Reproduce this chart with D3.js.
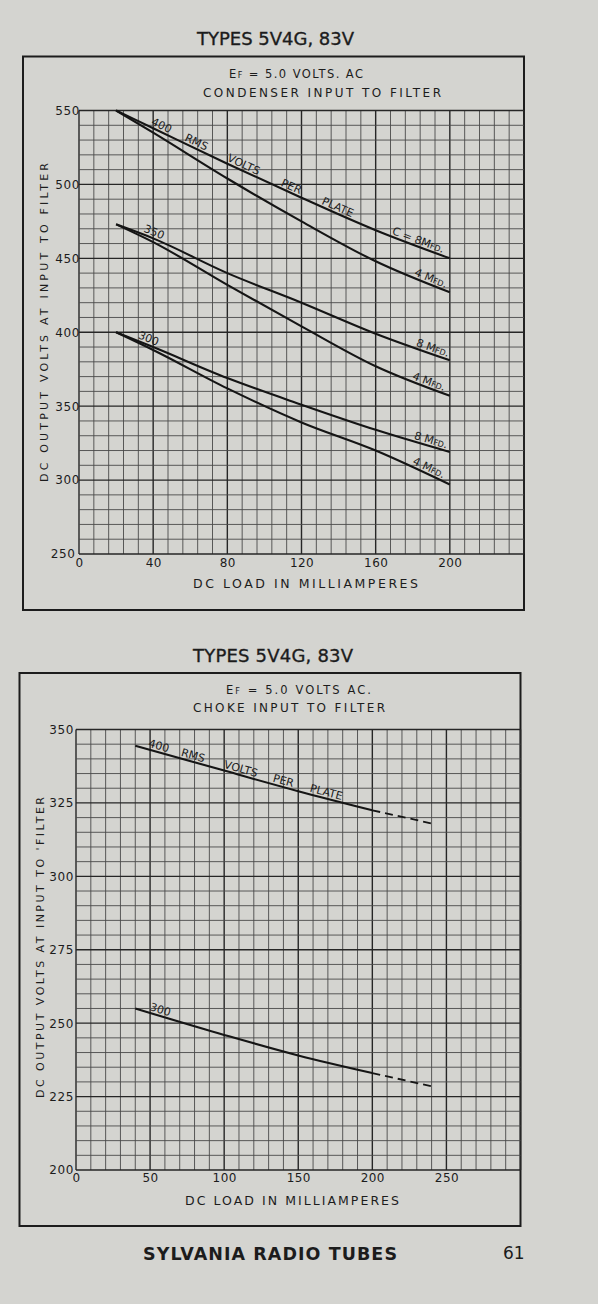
<!DOCTYPE html>
<html>
<head>
<meta charset="utf-8">
<script src="https://cdn.jsdelivr.net/npm/d3@7"></script>
<style>
    html, body { margin: 0; padding: 0; background: #d4d4d0; }
    svg { display: block; }
    text { font-family: "DejaVu Sans", sans-serif; fill: #1c1c1c; }
</style>
</head>
<body>
<svg id="page" width="598" height="1304"></svg>
<script>
// ---- condenser input to filter (top chart) ----
const capLoad = [20, 40, 80, 120, 160, 200]
const cap400c8 = [550, 538, 514, 491, 469, 450]
const cap400c4 = [550, 535, 504, 475, 448, 427]
const cap350c8 = [473, 463.5, 440, 420, 399, 381]
const cap350c4 = [473, 461, 432, 404, 377, 357]
const cap300c8 = [400, 390, 369, 351, 334, 319]
const cap300c4 = [400, 388, 362, 339, 320, 297]
const capXTicks = [0, 40, 80, 120, 160, 200]
const capYTicks = [250, 300, 350, 400, 450, 500, 550]

// ---- choke input to filter (bottom chart) ----
const chokeLoad = [40, 100, 150, 200]
const choke400 = [344.5, 336, 329, 322.5]
const choke300 = [255, 246, 239, 233]
const chokeLoadExt = [200, 240]
const choke400Ext = [322.5, 318]
const choke300Ext = [233, 228.5]
const chokeXTicks = [0, 50, 100, 150, 200, 250]
const chokeYTicks = [200, 225, 250, 275, 300, 325, 350]

// curve labels: [series id, words, load (mA) where the word starts]
// lower-case letters come out as small capitals
const capLabels = [
    ["c400c8", "400", 38], ["c400c8", "RMS", 56], ["c400c8", "VOLTS", 79],
    ["c400c8", "PER", 108], ["c400c8", "PLATE", 130], ["c400c8", "C = 8Mfd.", 168],
    ["c400c4", "4 Mfd.", 180],
    ["c350c8", "350", 34], ["c350c8", "8 Mfd.", 181], ["c350c4", "4 Mfd.", 179],
    ["c300c8", "300", 31], ["c300c8", "8 Mfd.", 180], ["c300c4", "4 Mfd.", 179]
]
const chokeLabels = [
    ["k400", "400", 48], ["k400", "RMS", 70], ["k400", "VOLTS", 99],
    ["k400", "PER", 132], ["k400", "PLATE", 157],
    ["k300", "300", 49]
]

const svg = d3.select("#page")
const ink = "#1c1c1c"

function lengthAtX(node, px) {
    let lo = 0, hi = node.getTotalLength()
    for (let i = 0; i < 30; i++) {
        const mid = (lo + hi) / 2
        if (node.getPointAtLength(mid).x < px) lo = mid; else hi = mid
    }
    return lo
}

function drawChart(opt) {
    const g = svg.append("g")
    const x = d3.scaleLinear().domain(opt.xDomain).range([opt.plot.left, opt.plot.right])
    const y = d3.scaleLinear().domain(opt.yDomain).range([opt.plot.bottom, opt.plot.top])

    // titles
    g.append("text")
        .attr("x", opt.title.x).attr("y", opt.title.y)
        .attr("text-anchor", "middle")
        .attr("font-size", 18)
        .attr("stroke", ink).attr("stroke-width", 0.35)
        .attr("textLength", opt.title.len).attr("lengthAdjust", "spacing")
        .text("TYPES 5V4G, 83V")

    g.append("rect")
        .attr("x", opt.box.x).attr("y", opt.box.y)
        .attr("width", opt.box.w).attr("height", opt.box.h)
        .attr("fill", "none").attr("stroke", ink).attr("stroke-width", 2)

    g.append("text")
        .attr("x", opt.sub1.x).attr("y", opt.sub1.y)
        .attr("font-size", 11.5)
        .attr("font-variant", "small-caps")
        .attr("textLength", opt.sub1.len).attr("lengthAdjust", "spacing")
        .text(opt.sub1.text)

    g.append("text")
        .attr("x", opt.sub2.x).attr("y", opt.sub2.y)
        .attr("font-size", 12)
        .attr("textLength", opt.sub2.len).attr("lengthAdjust", "spacing")
        .text(opt.sub2.text)

    // grid
    const grid = g.append("g")
    const xs = d3.range(opt.xDomain[0], opt.xDomain[1] + 0.001, opt.xMinor)
    const ys = d3.range(opt.yDomain[0], opt.yDomain[1] + 0.001, opt.yMinor)
    grid.selectAll(".vx").data(xs).enter().append("line")
        .attr("x1", d => x(d)).attr("x2", d => x(d))
        .attr("y1", opt.plot.top).attr("y2", opt.plot.bottom)
        .attr("stroke", d => d % opt.xMajor === 0 ? "#262626" : "#4a4a4a")
        .attr("stroke-width", d => d % opt.xMajor === 0 ? 1.4 : 0.9)
    grid.selectAll(".hy").data(ys).enter().append("line")
        .attr("y1", d => y(d)).attr("y2", d => y(d))
        .attr("x1", opt.plot.left).attr("x2", opt.plot.right)
        .attr("stroke", d => d % opt.yMajor === 0 ? "#262626" : "#4a4a4a")
        .attr("stroke-width", d => d % opt.yMajor === 0 ? 1.4 : 0.9)

    // axes labels
    const yAxis = g.append("g")
        .attr("transform", `translate(${opt.plot.left + opt.yGap},0)`)
        .call(d3.axisLeft(y).tickValues(opt.yTicks).tickSize(0).tickPadding(0))
    yAxis.select(".domain").remove()
    yAxis.selectAll("text")
        .attr("font-size", 12).attr("letter-spacing", 0.6)
        .attr("font-family", "DejaVu Sans").attr("fill", ink)
        .attr("dx", d => d === opt.yDomain[0] ? opt.lowGap : 0)

    const xAxis = g.append("g")
        .attr("transform", `translate(0,${opt.plot.bottom})`)
        .call(d3.axisBottom(x).tickValues(opt.xTicks).tickSize(0).tickPadding(0))
    xAxis.select(".domain").remove()
    xAxis.selectAll("text")
        .attr("font-size", 12).attr("letter-spacing", 0.4)
        .attr("font-family", "DejaVu Sans").attr("fill", ink)
        .attr("dy", null).attr("y", opt.xLabelBase)

    g.append("text")
        .attr("x", opt.xTitle.x).attr("y", opt.xTitle.y)
        .attr("font-size", 12.5)
        .attr("textLength", opt.xTitle.len).attr("lengthAdjust", "spacing")
        .text("DC LOAD IN MILLIAMPERES")

    g.append("text")
        .attr("transform", `translate(${opt.yTitle.x},${opt.yTitle.y}) rotate(-90)`)
        .attr("font-size", 11)
        .attr("textLength", opt.yTitle.len).attr("lengthAdjust", "spacing")
        .text(opt.yTitle.text)

    // curves
    const line = d3.line().x(d => x(d[0])).y(d => y(d[1])).curve(d3.curveMonotoneX)
    opt.series.forEach(s => {
        g.append("path")
            .attr("id", s.id)
            .attr("d", line(d3.zip(s.load, s.values)))
            .attr("fill", "none").attr("stroke", "#151515")
            .attr("stroke-width", s.dashed ? 1.8 : 2.1)
            .attr("stroke-dasharray", s.dashed ? "8,5" : null)
    })

    // labels along curves
    opt.labels.forEach(([id, word, at]) => {
        const node = document.getElementById(id)
        g.append("text")
            .attr("font-size", 11).attr("dy", -2.5)
            .attr("font-variant", "small-caps")
            .append("textPath")
            .attr("href", "#" + id)
            .attr("startOffset", lengthAtX(node, x(at)))
            .text(word)
    })
}

drawChart({
    box: { x: 23, y: 56.5, w: 501, h: 553.5 },
    plot: { left: 79, right: 524, top: 110.5, bottom: 554 },
    xDomain: [0, 240], yDomain: [250, 550],
    xMinor: 8, xMajor: 40, yMinor: 10, yMajor: 50,
    xTicks: capXTicks, yTicks: capYTicks,
    yGap: 1, lowGap: -4.5, xLabelBase: 12.5,
    title: { x: 275.5, y: 45, len: 157 },
    sub1: { x: 229, y: 78.3, len: 134, text: "Ef = 5.0 VOLTS. AC" },
    sub2: { x: 203, y: 96.7, len: 238, text: "CONDENSER INPUT TO FILTER" },
    xTitle: { x: 193, y: 588, len: 225 },
    yTitle: { x: 47.5, y: 482, len: 319, text: "DC OUTPUT VOLTS AT INPUT TO FILTER" },
    series: [
        { id: "c400c8", load: capLoad, values: cap400c8 },
        { id: "c400c4", load: capLoad, values: cap400c4 },
        { id: "c350c8", load: capLoad, values: cap350c8 },
        { id: "c350c4", load: capLoad, values: cap350c4 },
        { id: "c300c8", load: capLoad, values: cap300c8 },
        { id: "c300c4", load: capLoad, values: cap300c4 }
    ],
    labels: capLabels
})

drawChart({
    box: { x: 19.5, y: 673, w: 501, h: 553 },
    plot: { left: 76, right: 520.5, top: 729.5, bottom: 1170 },
    xDomain: [0, 300], yDomain: [200, 350],
    xMinor: 10, xMajor: 50, yMinor: 5, yMajor: 25,
    xTicks: chokeXTicks, yTicks: chokeYTicks,
    yGap: -2, lowGap: 0, xLabelBase: 12.3,
    title: { x: 273, y: 662, len: 160 },
    sub1: { x: 226, y: 694, len: 145, text: "Ef = 5.0 VOLTS AC." },
    sub2: { x: 193, y: 711.7, len: 192, text: "CHOKE INPUT TO FILTER" },
    xTitle: { x: 185, y: 1205, len: 214 },
    yTitle: { x: 44, y: 1098, len: 301, text: "DC OUTPUT VOLTS AT INPUT TO 'FILTER" },
    series: [
        { id: "k400", load: chokeLoad, values: choke400 },
        { id: "k400x", load: chokeLoadExt, values: choke400Ext, dashed: true },
        { id: "k300", load: chokeLoad, values: choke300 },
        { id: "k300x", load: chokeLoadExt, values: choke300Ext, dashed: true }
    ],
    labels: chokeLabels
})

// page footer
svg.append("text")
    .attr("x", 143).attr("y", 1259.5)
    .attr("font-size", 17.5).attr("font-weight", "bold")
    .attr("textLength", 254).attr("lengthAdjust", "spacing")
    .text("SYLVANIA RADIO TUBES")
svg.append("text")
    .attr("x", 503).attr("y", 1259)
    .attr("font-size", 17).attr("font-family", "Liberation Serif")
    .text("61")
</script>
</body>
</html>
